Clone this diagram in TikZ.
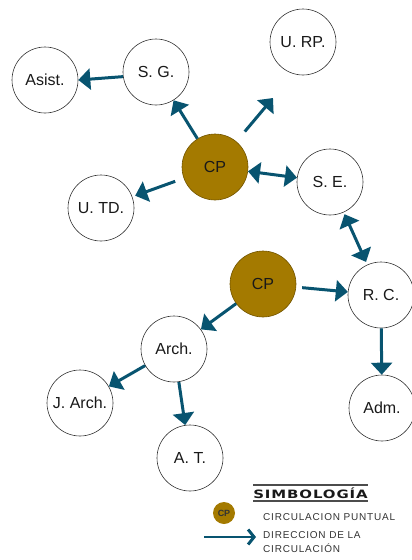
\documentclass[tikz,border=0pt]{standalone}
\usepackage{fontspec}
\setmainfont{Liberation Sans}
\newfontfamily\titlefont{DejaVu Sans}
\usetikzlibrary{arrows.meta}
\definecolor{arrowc}{HTML}{085470}
\definecolor{cpfill}{HTML}{A47A00}
\definecolor{legtext}{HTML}{333333}
\tikzset{
  room/.style={circle, draw=black!80, line width=0.6pt, minimum size=66pt, inner sep=0pt, font=\fontsize{16}{16}\selectfont, text=black!90, fill=white},
  cpnode/.style={room, fill=cpfill, draw=cpfill!70!black},
  arr/.style={draw=arrowc, line width=3pt, -{Triangle[length=12pt,width=21pt]}, arrowc},
  darr/.style={draw=arrowc, line width=3pt, {Triangle[length=12pt,width=21pt]}-{Triangle[length=12pt,width=21pt]}, arrowc},
  legarr/.style={draw=arrowc, line width=2.4pt, -{Straight Barb[length=6pt,width=15pt,line width=3pt]}},
  legline/.style={draw=black!70, line width=1.6pt},
}
\begin{document}
\begin{tikzpicture}[x=1pt,y=-1pt]
\useasboundingbox (0,0) rectangle (412,560);
% nodes
\node[room] (as) at (45,80) {Asist.};
\node[room] (sg) at (156,72) {S. G.};
\node[room] (urp) at (303,42) {U. RP.};
\node[cpnode] (cp1) at (215,167) {CP};
\node[room] (se) at (330,182) {S. E.};
\node[room] (utd) at (101,208) {U. TD.};
\node[cpnode] (cp2) at (263,284) {CP};
\node[room] (rc) at (381,295) {R. C.};
\node[room] (adm) at (382,408) {Adm.};
\node[room] (arch) at (174,349) {Arch.};
\node[room] (jarch) at (80,403) {J. Arch.};
\node[room] (at) at (190,458) {A. T.};
\coordinate (urpend) at (273,98);
% connectors
\draw[arr] (sg.188) -- (as.east);
\draw[arr] (cp1) -- (sg);
\draw[arr, shorten <=13pt] (cp1) -- (urpend);
\draw[arr, shorten <=9pt, shorten >=3pt] (cp1) -- (utd);
\draw[darr] (cp1) -- (se);
\draw[darr, shorten <=2pt, shorten >=3pt] (se) -- (rc);
\draw[arr, shorten <=6pt] (cp2) -- (rc);
\draw[arr] (rc) -- (adm);
\draw[arr] (cp2) -- (arch);
\draw[arr] (arch) -- (jarch);
\draw[arr] (arch) -- (at);
% legend
\draw[legline] (253,485) coordinate (l1a) -- (368,485) coordinate (l1b);
\draw[legline] (253,501) coordinate (l2a) -- (368,501) coordinate (l2b);
\node[anchor=center, inner sep=0pt, text=black!90] (simb) at (310.5,493.5) {\scalebox{1.3}[1]{\titlefont\bfseries\fontsize{11.5}{11.5}\selectfont\addfontfeature{LetterSpace=6}SIMBOLOGÍA}};
\node[circle, fill=cpfill, minimum size=22pt, inner sep=0pt, font=\fontsize{9}{9}\selectfont\bfseries, text=black!80] (cpl) at (224,513) {CP};
\node[anchor=west, inner sep=0pt, font=\fontsize{10}{10}\selectfont\addfontfeature{LetterSpace=8}, text=legtext] (t1) at (263,517) {CIRCULACION PUNTUAL};
\node[anchor=north west, inner sep=0pt, align=left, font=\fontsize{10}{14}\selectfont\addfontfeature{LetterSpace=8}, text=legtext] (t2) at (263,531.5) {DIRECCION DE LA\\CIRCULACIÓN};
\coordinate (la) at (204,537);
\coordinate (lb) at (256,537);
\draw[legarr] (la) -- (lb);
\end{tikzpicture}
\end{document}
